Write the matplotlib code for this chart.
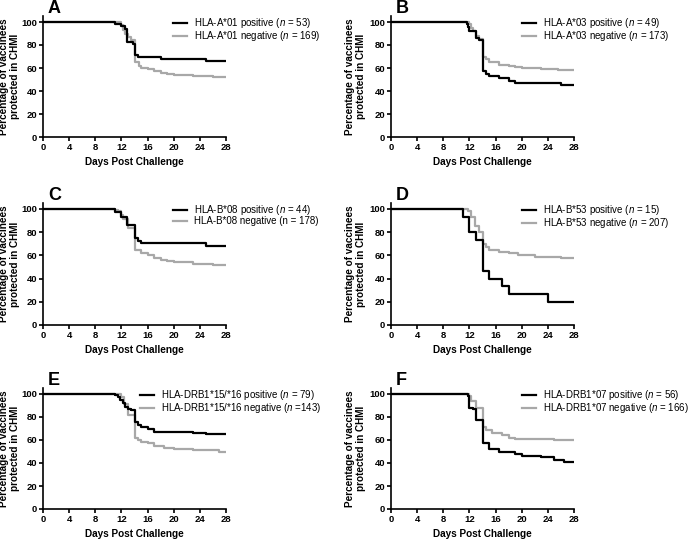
import numpy as np
import matplotlib
matplotlib.use('Agg')
import matplotlib.pyplot as plt

plt.rcParams['font.family'] = ['Liberation Sans', 'DejaVu Sans']
plt.rcParams['mathtext.fontset'] = 'custom'
plt.rcParams['mathtext.rm'] = 'Liberation Sans'
plt.rcParams['mathtext.it'] = 'Liberation Sans:italic'

# Kaplan-Meier step data: (day of change, percent protected after it)
a_pos_t = [0, 11, 12, 12.5, 12.9, 13.8, 14, 14.5, 18, 25, 28]
a_pos_v = [100, 98.1, 96.2, 94.3, 83.0, 81.1, 71.7, 69.8, 67.9, 66.0, 66.0]
a_neg_t = [0, 12, 12.3, 12.6, 13, 13.5, 14, 14.7, 15, 16, 17, 18, 19, 20, 23, 26, 28]
a_neg_v = [100, 97, 93, 90, 87, 84, 65, 62, 60, 59, 57, 56, 55, 54, 53, 52, 52]

b_pos_t = [0, 11.6, 11.8, 12, 13, 13.5, 14, 14.5, 15, 16.5, 18, 19, 26, 28]
b_pos_v = [100, 98, 96, 92, 86, 84, 57, 55, 53, 51, 49, 47, 45, 45]
b_neg_t = [0, 12, 12.2, 12.5, 13, 13.5, 14, 14.5, 15, 16.5, 18, 19, 20, 23, 24.5, 25.5, 28]
b_neg_v = [100, 98, 95, 92, 88, 85, 70, 68, 65, 63, 62, 61, 60, 59.5, 59, 58, 58]

c_pos_t = [0, 11, 12, 12.9, 14, 14.5, 15, 25, 28]
c_pos_v = [100, 97.7, 93.2, 86.4, 75.0, 72.7, 70.5, 68.2, 68.2]
c_neg_t = [0, 11, 11.5, 12, 12.3, 13, 14, 15, 16, 17, 18, 19, 20, 23, 26, 28]
c_neg_v = [100, 99, 98, 95, 91, 84, 65, 62, 60, 58, 56, 55, 54, 53, 52, 52]

d_pos_t = [0, 11, 12, 13, 14, 15, 17, 18, 24, 28]
d_pos_v = [100, 93.3, 80.0, 73.3, 46.7, 40.0, 33.3, 26.7, 20.0, 20.0]
d_neg_t = [0, 11.8, 12.3, 12.9, 13.5, 14, 14.5, 15, 16.5, 18, 19.5, 22, 26, 28]
d_neg_v = [100, 98, 93, 85, 80, 70, 67, 65, 63, 62, 60, 59, 58, 58]

e_pos_t = [0, 11, 11.4, 11.8, 12.2, 12.6, 13, 13.4, 14, 14.5, 15, 16, 17, 23, 25, 28]
e_pos_v = [100, 99, 97, 95, 92, 89, 87, 86, 76, 73, 71, 70, 67, 66, 65, 65]
e_neg_t = [0, 12, 12.4, 13, 14, 14.5, 15, 16, 17, 18.5, 20, 23, 27, 28]
e_neg_v = [100, 97, 91, 82, 62, 60, 58, 57, 55, 53, 52, 51, 50, 50]

f_pos_t = [0, 11.8, 12, 12.5, 13, 14, 15, 16.5, 19, 20, 23, 25, 26.5, 28]
f_pos_v = [100, 98, 88, 87, 77, 57, 52, 50, 48, 46, 45, 43, 41, 41]
f_neg_t = [0, 12, 12.3, 13, 14, 14.5, 15.5, 17, 18, 19, 25, 28]
f_neg_v = [100, 98, 94, 88, 71, 69, 66, 64, 62, 61, 60, 60]

panel_letters = ['A', 'B', 'C', 'D', 'E', 'F']
pos_labels = ['HLA-A*01 positive ($n$ = 53)', 'HLA-A*03 positive ($n$ = 49)',
              'HLA-B*08 positive ($n$ = 44)', 'HLA-B*53 positive ($n$ = 15)',
              'HLA-DRB1*15/*16 positive ($n$ = 79)', 'HLA-DRB1*07 positive ($n$ = 56)']
neg_labels = ['HLA-A*01 negative ($n$ = 169)', 'HLA-A*03 negative ($n$ = 173)',
              'HLA-B*08 negative (n = 178)', 'HLA-B*53 negative ($n$ = 207)',
              'HLA-DRB1*15/*16 negative ($n$ =143)', 'HLA-DRB1*07 negative ($n$ = 166)']
curves = [(a_pos_t, a_pos_v, a_neg_t, a_neg_v), (b_pos_t, b_pos_v, b_neg_t, b_neg_v),
          (c_pos_t, c_pos_v, c_neg_t, c_neg_v), (d_pos_t, d_pos_v, d_neg_t, d_neg_v),
          (e_pos_t, e_pos_v, e_neg_t, e_neg_v), (f_pos_t, f_pos_v, f_neg_t, f_neg_v)]

W, H = 689, 540
fig = plt.figure(figsize=(W / 100, H / 100), dpi=100)

# pixel positions of x=0 and y=0 for each panel, pixels per 100%
lefts = [43, 391]
zeros = [137, 325, 509]
h100 = [115, 116, 115]
width = 183
legend_x = [0.71, 0.716, 0.71, 0.716, 0.53, 0.716]
ylabel_x = [-0.125, -0.135]

for i in range(6):
    row, col = divmod(i, 2)
    hpx = h100[row] * 1.05
    ax = fig.add_axes([lefts[col] / W, 1 - zeros[row] / H, width / W, hpx / H])
    pt, pv, nt, nv = curves[i]
    ax.step(pt, pv, where='post', color='black', lw=1.6, label=pos_labels[i], zorder=3)
    ax.step(nt, nv, where='post', color='#a8a8a8', lw=1.6, label=neg_labels[i], zorder=2)
    ax.set_xlim(0, 28)
    ax.set_ylim(0, 105)
    ax.set_xticks(np.arange(0, 29, 4))
    ax.set_yticks(np.arange(0, 101, 20))
    for s in ['top', 'right']:
        ax.spines[s].set_visible(False)
    for s in ['left', 'bottom']:
        ax.spines[s].set_linewidth(1.2)
    ax.tick_params(direction='out', length=3, width=1.2, labelsize=6.8, pad=1.2)
    for lab in ax.get_xticklabels() + ax.get_yticklabels():
        lab.set_fontweight('bold')
    ax.set_xlabel('Days Post Challenge', fontsize=7.2, fontweight='bold')
    ax.xaxis.set_label_coords(0.5, -20 / hpx)
    ax.set_ylabel('Percentage of vaccinees\nprotected in CHMI', fontsize=7.2,
                  fontweight='bold', linespacing=1.15)
    ax.yaxis.set_label_coords(ylabel_x[col], 0.5)
    ax.legend(loc='upper left', bbox_to_anchor=(legend_x[i], 1.0), frameon=False,
              fontsize=7.0, handlelength=1.4, handletextpad=0.75, borderpad=0,
              labelspacing=-0.1, borderaxespad=0)
    fig.text((lefts[col] + 5) / W, 1 - (zeros[row] - hpx - 8) / H,
             panel_letters[i], fontsize=13, fontweight='bold', va='center', ha='left')

fig.savefig('out.png', dpi=100)
